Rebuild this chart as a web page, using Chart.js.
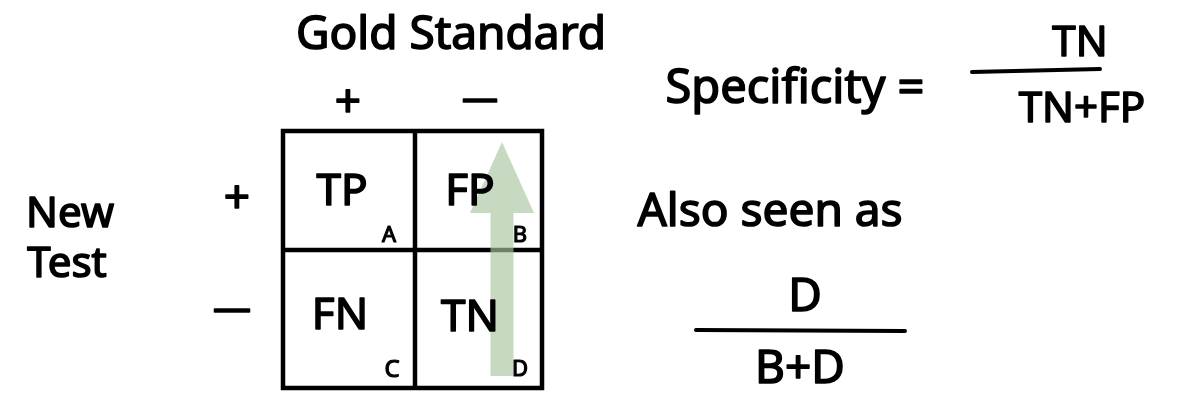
<!DOCTYPE html>
<html>
<head>
<meta charset="utf-8">
<script src="https://cdn.jsdelivr.net/npm/chart.js@4/dist/chart.umd.min.js"></script>
<style>
  html, body { margin: 0; padding: 0; background: #fff; }
  #wrap { width: 1188px; height: 397px; }
</style>
</head>
<body>
<div id="wrap"><canvas id="chart"></canvas></div>
<script>
// 2x2 table edges (diagram units)
const gridX = [283, 415, 542];
const gridY = [131, 250, 388];

// arrow over the "gold standard -" column
const arrowShaft = [{ x: 502, y: 376 }, { x: 502, y: 213 }];
const arrowHead = [{ x: 470, y: 213 }, { x: 502, y: 142 }, { x: 534, y: 213 }, { x: 470, y: 213 }];

// fraction bars
const fracBars = [
  [{ x: 972, y: 72 }, { x: 1100, y: 69 }],
  [{ x: 696, y: 330 }, { x: 905, y: 331 }]
];

// text labels
const labelText = ['Gold Standard', '+', '—', '+', '—', 'New', 'Test',
  'TP', 'A', 'FP', 'B', 'FN', 'C', 'TN', 'D',
  'Specificity =', 'TN', 'TN+FP', 'Also seen as', 'D', 'B+D'];
const labelX = [451, 348, 480, 237, 232, 70, 67,
  342, 389, 470, 520, 340, 392, 470, 520,
  795, 1080, 1082, 770, 805, 800];
const labelY = [36, 104, 100, 200, 310, 215, 265,
  192, 236, 192, 236, 316, 370, 318, 370,
  90, 44, 110, 213, 298, 370];
const labelSize = [46, 46, 36, 46, 38, 42, 42,
  44, 22, 44, 22, 44, 24, 44, 22,
  47, 42, 42, 46, 46, 46];

function gridSegments() {
  const pts = [];
  gridX.forEach(x => { pts.push({ x: x, y: gridY[0] }, { x: x, y: gridY[2] }, { x: x, y: null }); });
  gridY.forEach(y => { pts.push({ x: gridX[0], y: y }, { x: gridX[2], y: y }, { x: null, y: null }); });
  return pts;
}

const textPlugin = {
  id: 'handText',
  afterDatasetsDraw(chart) {
    const ctx = chart.ctx;
    const xs = chart.scales.x, ys = chart.scales.y;
    ctx.save();
    ctx.fillStyle = '#000';
    ctx.strokeStyle = '#000';
    ctx.lineJoin = 'round';
    ctx.textAlign = 'center';
    ctx.textBaseline = 'middle';
    labelText.forEach((t, i) => {
      ctx.font = labelSize[i] + 'px "Noto Sans", sans-serif';
      const px = xs.getPixelForValue(labelX[i]), py = ys.getPixelForValue(labelY[i]);
      ctx.lineWidth = labelSize[i] > 30 ? 1.6 : 1.2;
      ctx.fillText(t, px, py);
      ctx.strokeText(t, px, py);
    });
    ctx.restore();
  }
};

const lineDefaults = { showLine: true, pointRadius: 0, spanGaps: false, borderCapStyle: 'round' };
const arrowColor = 'rgba(170,196,162,0.65)';

new Chart(document.getElementById('chart'), {
  type: 'scatter',
  data: {
    datasets: [
      Object.assign({}, lineDefaults, { data: arrowShaft, borderColor: arrowColor, borderWidth: 23, borderCapStyle: 'butt' }),
      Object.assign({}, lineDefaults, { data: arrowHead, borderColor: 'rgba(0,0,0,0)', borderWidth: 0, backgroundColor: arrowColor, fill: 'shape' }),
      Object.assign({}, lineDefaults, { data: gridSegments(), borderColor: '#000', borderWidth: 4.5, borderCapStyle: 'square' }),
      Object.assign({}, lineDefaults, { data: fracBars[0], borderColor: '#000', borderWidth: 4 }),
      Object.assign({}, lineDefaults, { data: fracBars[1], borderColor: '#000', borderWidth: 4 })
    ]
  },
  options: {
    responsive: true,
    maintainAspectRatio: false,
    animation: false,
    layout: { padding: 0 },
    plugins: { legend: { display: false }, tooltip: { enabled: false } },
    scales: {
      x: { type: 'linear', min: 0, max: 1188, display: false },
      y: { type: 'linear', min: 0, max: 397, reverse: true, display: false }
    }
  },
  plugins: [textPlugin]
});
</script>
</body>
</html>
